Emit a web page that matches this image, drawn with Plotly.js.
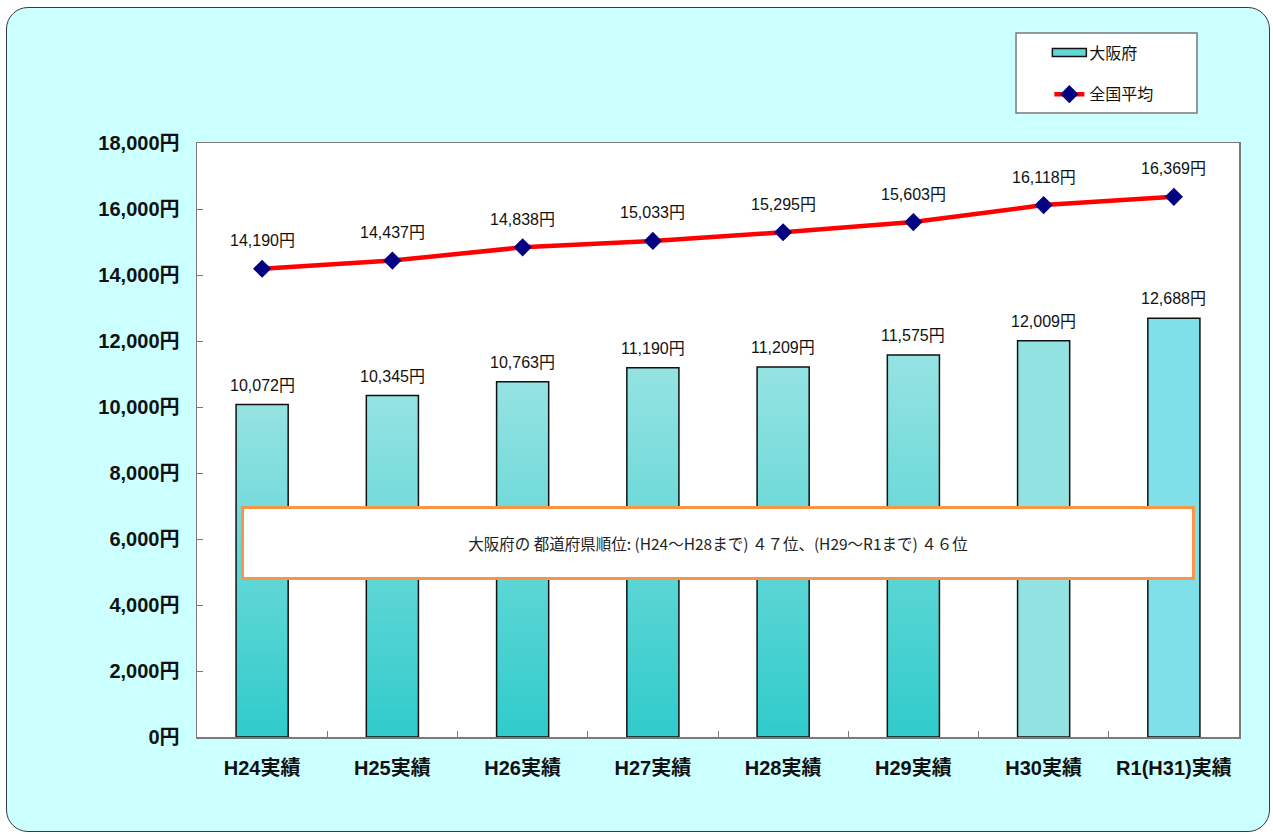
<!DOCTYPE html>
<html>
<head>
<meta charset="utf-8">
<script src="https://cdn.plot.ly/plotly-3.0.1.min.js"></script>
<style>
  html, body { margin: 0; padding: 0; background: #ffffff; }
  #frame { position: absolute; left: 6px; top: 7px; width: 1262px; height: 823px;
           background: #CCFFFF; border: 1.5px solid #3a3a3a; border-radius: 22px; }
  #chart { position: absolute; left: 0; top: 0; width: 1273px; height: 834px; }
</style>
</head>
<body>
<div id="frame"></div>
<div id="chart"></div>
<script>
// ---- data ----
const categories = ['H24実績','H25実績','H26実績','H27実績','H28実績','H29実績','H30実績','R1(H31)実績'];
const osaka      = [10072, 10345, 10763, 11190, 11209, 11575, 12009, 12688];
const national   = [14190, 14437, 14838, 15033, 15295, 15603, 16118, 16369];
const seriesNames = ['大阪府', '全国平均'];
const noteText = '大阪府の 都道府県順位: (H24～H28まで) ４７位、(H29～R1まで) ４６位';

const FONT = 'Liberation Sans, Arial, "Noto Sans CJK JP", sans-serif';
const fmt = v => v.toLocaleString('en-US') + '円';

const barColors = ['#62D6D6','#62D6D6','#62D6D6','#62D6D6','#62D6D6','#62D6D6','#93E2E2','#7FE0EA'];

const barTrace = {
  type: 'bar', name: seriesNames[0], x: categories, y: osaka,
  marker: { color: barColors, line: { color: '#111111', width: 1.5 } },
  legendgroup: 'a', hoverinfo: 'skip'
};
const lineTrace = {
  type: 'scatter', mode: 'lines+markers', name: seriesNames[1], x: categories, y: national,
  line: { color: '#FF0000', width: 4.5 },
  marker: { symbol: 'diamond', size: 14, color: '#000080', line: { width: 0 } },
  legendgroup: 'b', hoverinfo: 'skip'
};

const annotations = [];
categories.forEach((c, i) => {
  annotations.push({ x: c, y: osaka[i], xref: 'x', yref: 'y', text: fmt(osaka[i]),
    showarrow: false, yanchor: 'bottom', yshift: 9,
    font: { family: FONT, size: 16, color: '#111111' } });
  annotations.push({ x: c, y: national[i], xref: 'x', yref: 'y', text: fmt(national[i]),
    showarrow: false, yanchor: 'middle', yshift: 28,
    font: { family: FONT, size: 16, color: '#111111' } });
});
annotations.push({ x: 0.5, xref: 'paper', y: 5864, yref: 'y', text: noteText, showarrow: false,
  width: 946, height: 66, bgcolor: '#ffffff', bordercolor: '#F79646', borderwidth: 3,
  align: 'center', valign: 'middle',
  font: { family: '"Noto Sans CJK JP", sans-serif', size: 15.5, color: '#222222' } });

const layout = {
  width: 1273, height: 834,
  margin: { l: 197, r: 34, t: 143, b: 97, pad: 0 },
  paper_bgcolor: 'rgba(0,0,0,0)', plot_bgcolor: '#ffffff',
  bargap: 0.6,
  showlegend: true,
  legend: { x: 0.818, y: 1.181, xanchor: 'left', yanchor: 'top', bgcolor: 'rgba(0,0,0,0)',
            borderwidth: 0, traceorder: 'grouped', tracegroupgap: 18,
            font: { family: '"Noto Sans CJK JP", sans-serif', size: 16, color: '#111111' } },
  xaxis: {
    type: 'category', showline: true, linecolor: '#7a7a7a', linewidth: 1.5, mirror: true,
    ticks: 'inside', tickson: 'boundaries', ticklen: 6, tickcolor: '#7a7a7a',
    showgrid: false, ticklabelstandoff: 12,
    tickfont: { family: FONT, size: 20, color: '#111111', weight: 'bold' }
  },
  yaxis: {
    range: [0, 18000], dtick: 2000, tickformat: ',d', ticksuffix: '円',
    showline: true, linecolor: '#7a7a7a', linewidth: 1.5, mirror: true,
    ticks: 'inside', ticklen: 6, tickcolor: '#7a7a7a', showgrid: false, zeroline: false,
    ticklabelstandoff: 12,
    tickfont: { family: FONT, size: 20, color: '#111111', weight: 'bold' }
  },
  shapes: [{ type: 'rect', xref: 'paper', yref: 'paper', x0: 0.786, x1: 0.9597, y0: 1.0505, y1: 1.1852,
             fillcolor: '#ffffff', line: { color: '#7a7a7a', width: 1.5 }, layer: 'below' }],
  annotations: annotations
};

Plotly.newPlot('chart', [barTrace, lineTrace], layout, { staticPlot: true }).then(gd => {
  const svg = gd.querySelector('.main-svg');
  let defs = svg.querySelector('defs');
  if (!defs) { defs = document.createElementNS('http://www.w3.org/2000/svg', 'defs'); svg.insertBefore(defs, svg.firstChild); }
  const g = document.createElementNS('http://www.w3.org/2000/svg', 'linearGradient');
  g.setAttribute('id', 'barGrad'); g.setAttribute('x1', '0'); g.setAttribute('y1', '0');
  g.setAttribute('x2', '0'); g.setAttribute('y2', '1');
  [['0', '#95E3E2'], ['1', '#30CBCB']].forEach(([o, c]) => {
    const s = document.createElementNS('http://www.w3.org/2000/svg', 'stop');
    s.setAttribute('offset', o); s.setAttribute('stop-color', c); g.appendChild(s);
  });
  defs.appendChild(g);
  const paths = gd.querySelectorAll('.barlayer .trace .point path');
  paths.forEach((p, i) => { if (i < 6) p.style.fill = 'url(#barGrad)'; });
  // widen the bar legend symbol to a flat rectangle
  const legSym = gd.querySelector('.legend .traces .legendpoints path');
  if (legSym) {
    legSym.setAttribute('d', 'M-17,-4h34v8h-34Z');
    legSym.style.fill = '#62D6D6';
    legSym.style.stroke = '#111111';
    legSym.style.strokeWidth = '1.5px';
  }
});
</script>
</body>
</html>
